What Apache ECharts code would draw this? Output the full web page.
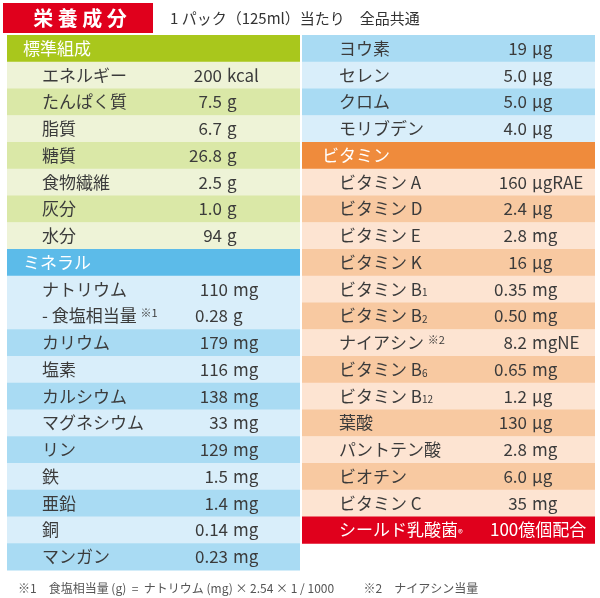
<!DOCTYPE html>
<html>
<head>
<meta charset="utf-8">
<title>栄養成分</title>
<script src="https://cdn.jsdelivr.net/npm/echarts@6/dist/echarts.min.js"></script>
<style>
    html, body { margin: 0; padding: 0; background: #fff; }
    .nutrition-chart { width: 600px; height: 598px; }
</style>
</head>
<body>
<div class="nutrition-chart"></div>
<script>
/*********************** data *******************************/
// left column (20 rows)
var leftNames = ['標準組成', 'エネルギー', 'たんぱく質', '脂質', '糖質', '食物繊維', '灰分', '水分',
    'ミネラル', 'ナトリウム', '- 食塩相当量 {sup|※1}', 'カリウム', '塩素', 'カルシウム', 'マグネシウム',
    'リン', '鉄', '亜鉛', '銅', 'マンガン'];
var leftAmounts = ['', '200', '7.5', '6.7', '26.8', '2.5', '1.0', '94',
    '', '110', '0.28', '179', '116', '138', '33', '129', '1.5', '1.4', '0.14', '0.23'];
var leftUnits = ['', 'kcal', 'g', 'g', 'g', 'g', 'g', 'g',
    '', 'mg', 'g', 'mg', 'mg', 'mg', 'mg', 'mg', 'mg', 'mg', 'mg', 'mg'];
var leftSections = ['std', 'std', 'std', 'std', 'std', 'std', 'std', 'std',
    'min', 'min', 'min', 'min', 'min', 'min', 'min', 'min', 'min', 'min', 'min', 'min'];
var leftTones = ['h', 'a', 'b', 'a', 'b', 'a', 'b', 'a',
    'h', 'a', 'a', 'b', 'a', 'b', 'a', 'b', 'a', 'b', 'a', 'b'];

// right column (19 rows)
var rightNames = ['ヨウ素', 'セレン', 'クロム', 'モリブデン', 'ビタミン', 'ビタミン A', 'ビタミン D',
    'ビタミン E', 'ビタミン K', 'ビタミン B{sub|1}', 'ビタミン B{sub|2}', 'ナイアシン {sup|※2}',
    'ビタミン B{sub|6}', 'ビタミン B{sub|12}', '葉酸', 'パントテン酸', 'ビオチン', 'ビタミン C',
    'シールド乳酸菌{sub|®}'];
var rightAmounts = ['19', '5.0', '5.0', '4.0', '', '160', '2.4', '2.8', '16', '0.35', '0.50', '8.2',
    '0.65', '1.2', '130', '2.8', '6.0', '35', '100億個配合'];
var rightUnits = ['µg', 'µg', 'µg', 'µg', '', 'µgRAE', 'µg', 'mg', 'µg', 'mg', 'mg', 'mgNE',
    'mg', 'µg', 'µg', 'mg', 'µg', 'mg', ''];
var rightSections = ['min', 'min', 'min', 'min', 'vit', 'vit', 'vit', 'vit', 'vit', 'vit', 'vit', 'vit',
    'vit', 'vit', 'vit', 'vit', 'vit', 'vit', 'red'];
var rightTones = ['b', 'a', 'b', 'a', 'h', 'a', 'b', 'a', 'b', 'a', 'b', 'a',
    'b', 'a', 'b', 'a', 'b', 'a', 'h'];

var rowLabels = [];
for (var r = 0; r < 20; r++) {
    rowLabels.push('r' + r);
}

/*********************** table *******************************/
function NutritionTable(params) {
    this.canvasId = params.canvasId;
    this.columns = params.columns;
    this.chart = {};
    this.chartsObj = {};
    this.option = {};
}

NutritionTable.prototype.initChart = function () {
    var thisProxy = this;
    thisProxy.chart = document.getElementsByClassName(thisProxy.canvasId)[0];
    thisProxy.chartsObj = echarts.init(thisProxy.chart, null, {renderer: 'canvas'});
};

NutritionTable.prototype.getOption = function () {
    var thisProxy = this;
    var fontFamily = '"Noto Sans CJK JP", "Noto Sans", sans-serif';
    var colors = {
        std: {h: '#a9c71c', a: '#eef3d7', b: '#dae8a7'},
        min: {h: '#5cbbe9', a: '#d9eefa', b: '#a9dbf3'},
        vit: {h: '#ef8b3c', a: '#fde4d2', b: '#f8c9a1'},
        red: {h: '#e0001c'}
    };
    var rich = {
        sub: {fontSize: 10, fontFamily: fontFamily, verticalAlign: 'bottom', padding: [6, 0, 0, 0]},
        sup: {fontSize: 11, fontFamily: fontFamily, verticalAlign: 'top', padding: [0, 0, 6, 0]}
    };

    var seriesData = [];
    thisProxy.columns.forEach(function (col, c) {
        col.names.forEach(function (name, i) {
            seriesData.push([c, i]);
        });
    });

    var renderItem = function (params, api) {
        var c = api.value(0);
        var i = api.value(1);
        var col = thisProxy.columns[c];
        var section = col.sections[i];
        var tone = col.tones[i];
        var center = api.coord([c, i]);
        var size = api.size([1, 1]);
        var x0 = center[0] - size[0] / 2;
        var y0 = center[1] - size[1] / 2;
        var w = size[0] - 1;
        var isHead = tone === 'h';
        var textColor = isHead ? '#ffffff' : '#3b3b3b';
        var children = [{
            type: 'rect',
            shape: {x: c === 0 ? x0 : x0 + 1, y: y0, width: w, height: size[1] + 0.5},
            style: {fill: colors[section][tone]}
        }];
        var nameX = isHead && section !== 'red' ? x0 + (c === 0 ? 16 : 21) : x0 + (c === 0 ? 35 : 38);
        children.push({
            type: 'text',
            x: nameX,
            y: center[1],
            style: {
                text: col.names[i], fill: textColor, fontSize: 17, fontFamily: fontFamily,
                align: 'left', verticalAlign: 'middle', textAlign: 'left', textVerticalAlign: 'middle',
                rich: rich
            }
        });
        if (col.amounts[i] !== '') {
            if (section === 'red') {
                children.push({
                    type: 'text', x: x0 + 189, y: center[1],
                    style: {
                        text: col.amounts[i], fill: '#ffffff', fontSize: 17, fontFamily: fontFamily,
                        align: 'left', verticalAlign: 'middle', textAlign: 'left', textVerticalAlign: 'middle'
                    }
                });
            } else {
                var right = c === 1 ? x0 + 226 : (section === 'std' ? x0 + 215 : x0 + 221);
                children.push({
                    type: 'text', x: right, y: center[1],
                    style: {
                        text: col.amounts[i], fill: textColor, fontSize: 17, fontFamily: fontFamily,
                        align: 'right', verticalAlign: 'middle', textAlign: 'right', textVerticalAlign: 'middle'
                    }
                });
                children.push({
                    type: 'text', x: right + 5, y: center[1],
                    style: {
                        text: col.units[i], fill: textColor, fontSize: 17, fontFamily: fontFamily,
                        align: 'left', verticalAlign: 'middle', textAlign: 'left', textVerticalAlign: 'middle'
                    }
                });
            }
        }
        return {type: 'group', children: children};
    };

    thisProxy.option = {
        backgroundColor: '#ffffff',
        animation: false,
        grid: {
            left: 7,
            right: 5,
            top: 35,
            height: 535
        },
        xAxis: {
            type: 'category',
            data: ['left', 'right'],
            show: false
        },
        yAxis: {
            type: 'category',
            data: rowLabels,
            inverse: true,
            show: false
        },
        graphic: [
            {
                type: 'rect', left: 3, top: 3,
                shape: {width: 150, height: 30},
                style: {fill: '#e0001c'}
            },
            {
                type: 'text', x: 80, y: 18,
                style: {
                    text: '栄 養 成 分', fill: '#ffffff', fontSize: 20, fontWeight: 'bold',
                    fontFamily: fontFamily, align: 'center', verticalAlign: 'middle',
                    textAlign: 'center', textVerticalAlign: 'middle'
                }
            },
            {
                type: 'text', x: 170, y: 18,
                style: {
                    text: '1 パック（125ml）当たり　全品共通', fill: '#333333', fontSize: 15,
                    fontFamily: fontFamily, align: 'left', verticalAlign: 'middle',
                    textAlign: 'left', textVerticalAlign: 'middle'
                }
            },
            {
                type: 'text', x: 18, y: 588,
                style: {
                    text: '※1　食塩相当量 (g)  =  ナトリウム (mg) × 2.54 × 1 / 1000　　  ※2　ナイアシン当量',
                    fill: '#555555', fontSize: 12, fontFamily: fontFamily,
                    align: 'left', verticalAlign: 'middle', textAlign: 'left', textVerticalAlign: 'middle'
                }
            }
        ],
        series: [{
            type: 'custom',
            renderItem: renderItem,
            data: seriesData,
            silent: true
        }]
    };
};

NutritionTable.prototype.fireData = function () {
    var thisProxy = this;
    thisProxy.chartsObj.setOption(thisProxy.option);
};

var nutritionTable = new NutritionTable({
    canvasId: 'nutrition-chart',
    columns: [
        {names: leftNames, amounts: leftAmounts, units: leftUnits, sections: leftSections, tones: leftTones},
        {names: rightNames, amounts: rightAmounts, units: rightUnits, sections: rightSections, tones: rightTones}
    ]
});
nutritionTable.initChart();
nutritionTable.getOption();
nutritionTable.fireData();
</script>
</body>
</html>
